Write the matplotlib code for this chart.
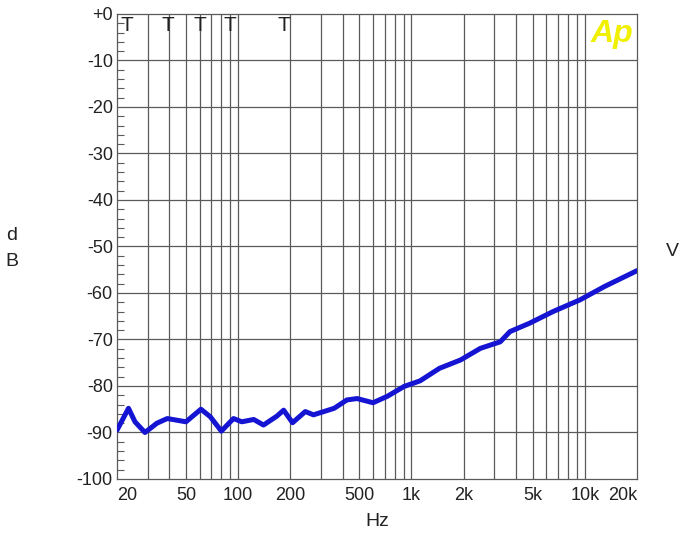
import numpy as np
import matplotlib.pyplot as plt
from matplotlib.ticker import FixedLocator, NullFormatter, MultipleLocator

plt.rcParams['font.family'] = ['Liberation Sans', 'DejaVu Sans']

# frequency response
freq_hz = [20, 23.3, 25.4, 29, 34, 39, 50, 61, 69, 80, 94, 105, 123, 140, 167,
           183, 206, 244, 272, 358, 424, 485, 600, 727, 906, 1120, 1450, 1920,
           2500, 3250, 3700, 4800, 6550, 9350, 13000, 20000]
level_db = [-89.5, -84.8, -87.7, -90.0, -88.0, -87.0, -87.7, -85.0, -86.6, -89.7,
            -87.0, -87.7, -87.2, -88.4, -86.5, -85.2, -87.9, -85.5, -86.2, -84.8,
            -83.0, -82.7, -83.6, -82.2, -80.1, -78.9, -76.2, -74.4, -71.9, -70.5,
            -68.3, -66.5, -64.0, -61.5, -58.6, -55.2]

x_ticks = [20, 50, 100, 200, 500, 1000, 2000, 5000, 10000, 20000]
x_tick_labels = ["20", "50", "100", "200", "500", "1k", "2k", "5k", "10k", "20k"]
y_ticks = [0, -10, -20, -30, -40, -50, -60, -70, -80, -90, -100]
y_tick_labels = ["+0", "-10", "-20", "-30", "-40", "-50", "-60", "-70", "-80", "-90", "-100"]
t_marks = [22.8, 39.5, 60.5, 90, 184]

grid_c = "#5a5a5a"

fig = plt.figure(figsize=(6.81, 5.44), dpi=100)
ax = fig.add_axes([0.1718, 0.1195, 0.7636, 0.8548])

ax.set_xscale("log")
ax.set_xlim(20, 20000)
ax.set_ylim(-100, 0)

# vertical grid on every 1..9 multiple
grid_x = [m * 10 ** d for d in range(1, 5) for m in range(1, 10)]
grid_x = [g for g in grid_x if 20 < g < 20000]
for g in grid_x:
    ax.axvline(g, color=grid_c, lw=0.9, zorder=1)
for y in y_ticks[1:-1]:
    ax.axhline(y, color=grid_c, lw=0.9, zorder=1)

ax.plot(freq_hz, level_db, color="#1414d2", lw=3.6, solid_joinstyle="round",
        solid_capstyle="round", zorder=3)

ax.xaxis.set_major_locator(FixedLocator(x_ticks))
ax.xaxis.set_minor_locator(FixedLocator([]))
ax.xaxis.set_minor_formatter(NullFormatter())
ax.set_xticklabels(x_tick_labels)
ax.set_yticks(y_ticks)
ax.set_yticklabels(y_tick_labels)
ax.yaxis.set_minor_locator(MultipleLocator(2))

ax.tick_params(axis="both", which="major", length=0, labelsize=13, colors="#222222")
ax.tick_params(axis="x", pad=6)
ax.tick_params(axis="y", pad=3)
ax.tick_params(axis="y", which="minor", direction="in", length=5, width=0.8, color=grid_c)

labels = ax.get_xticklabels()
labels[0].set_horizontalalignment("left")
labels[-1].set_horizontalalignment("right")

for s in ax.spines.values():
    s.set_color(grid_c)
    s.set_linewidth(0.9)

for f in t_marks:
    ax.text(f, -0.5, "T", ha="center", va="top", fontsize=15, color="#222222",
            fontstretch="condensed")

ax.text(0.993, 0.99, "Ap", transform=ax.transAxes, ha="right", va="top",
        fontsize=23, fontweight="bold", fontstyle="italic", color="#f0f000")

fig.text(12 / 681, 1 - 235 / 544, "d", ha="center", va="center", fontsize=14, color="#222222")
fig.text(12 / 681, 1 - 261 / 544, "B", ha="center", va="center", fontsize=14, color="#222222")
fig.text(672 / 681, 1 - 251 / 544, "V", ha="center", va="center", fontsize=14, color="#222222")
fig.text(377 / 681, 1 - 522 / 544, "Hz", ha="center", va="center", fontsize=14, color="#222222")

fig.savefig("out.png", dpi=100)
